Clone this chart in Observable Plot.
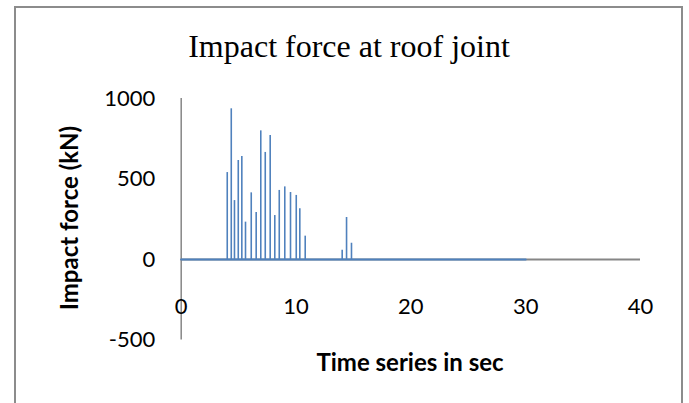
<!DOCTYPE html>
<html>
<head>
<meta charset="utf-8">
<script src="https://cdn.jsdelivr.net/npm/d3@7"></script>
<script src="https://cdn.jsdelivr.net/npm/@observablehq/plot@0.6"></script>
<style>
  html, body { margin: 0; padding: 0; background: #fff; }
  #wrap { position: relative; width: 689px; height: 403px; overflow: hidden; }
  #frame { position: absolute; left: 14px; top: 6px; width: 669px; height: 420px;
           border: 2px solid #8c8c8c; box-sizing: border-box; pointer-events: none; }
  .lbl { position: absolute; white-space: nowrap; color: #000; line-height: 1; }
  #title { font-family: "Liberation Serif", "Times New Roman", serif; font-size: 32px;
           left: 349px; top: 46px; transform: translate(-50%, -50%); }
  #ytitle { font-family: Lato, "Open Sans", sans-serif; font-weight: bold; font-size: 24px;
            left: 69px; top: 218px; transform: translate(-50%, -50%) rotate(-90deg); }
  #xtitle { font-family: Lato, "Open Sans", sans-serif; font-weight: bold; font-size: 24px;
            left: 410px; top: 362px; transform: translate(-50%, -50%); }
  #plot { position: absolute; left: 0; top: 0; }
</style>
</head>
<body>
<div id="wrap">
  <div id="plot"></div>
  <div id="frame"></div>
  <div class="lbl" id="title">Impact force at roof joint</div>
  <div class="lbl" id="ytitle">Impact force (kN)</div>
  <div class="lbl" id="xtitle">Time series in sec</div>
</div>
<script>
// Data
const spikeTime  = [4.01, 4.36, 4.64, 4.97, 5.28, 5.60, 6.10, 6.53, 6.93, 7.32, 7.75, 8.15, 8.54, 9.02, 9.52, 10.02, 10.33, 10.80, 14.02, 14.40, 14.83];
const spikeForce = [540, 936, 366, 615, 640, 232, 414, 292, 799, 665, 770, 273, 429, 451, 416, 398, 315, 145, 58, 261, 101];
const seriesStart = 0;
const seriesEnd = 30;
const xTicks = [0, 10, 20, 30, 40];
const yTicks = [-500, 0, 500, 1000];

const spikes = spikeTime.map((t, i) => ({t, f: spikeForce[i]}));
const baseline = [{t: seriesStart, f: 0}, {t: seriesEnd, f: 0}];

const blue = "#4f81bd";
const gray = "#868686";
const tickFont = "Lato, 'Open Sans', sans-serif";

const chart = Plot.plot({
  width: 689,
  height: 403,
  marginLeft: 180.7,
  marginRight: 49,
  marginTop: 98,
  marginBottom: 63.5,
  x: {domain: [0, 40], axis: null},
  y: {domain: [-500, 1000], axis: null},
  style: {background: "transparent"},
  marks: [
    // x axis line at y = 0
    Plot.ruleY([0], {x1: 0, x2: 40, stroke: gray, strokeWidth: 2}),
    // y axis line
    Plot.ruleX([0], {y1: -500, y2: 1000, stroke: gray, strokeWidth: 1.5}),
    // series baseline
    Plot.line(baseline, {x: "t", y: "f", stroke: blue, strokeWidth: 2.2}),
    // impact spikes
    Plot.ruleX(spikes, {x: "t", y1: 0, y2: "f", stroke: blue, strokeWidth: 1.6}),
    // y tick labels
    Plot.text(yTicks, {x: 0, y: d => d, text: d => String(d), textAnchor: "end", dx: -26,
      fontSize: 22, fontFamily: tickFont, fill: "#000"}),
    // x tick labels
    Plot.text(xTicks, {x: d => d, y: 0, text: d => String(d), dy: 47,
      fontSize: 22, fontFamily: tickFont, fill: "#000"})
  ]
});
document.getElementById("plot").appendChild(chart);
</script>
</body>
</html>
